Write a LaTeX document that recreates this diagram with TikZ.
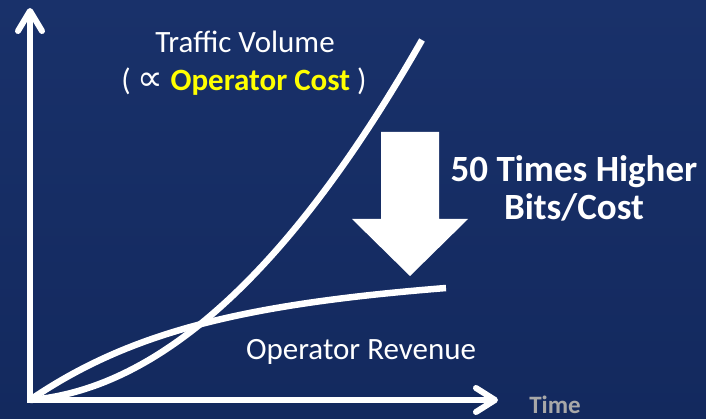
\documentclass[tikz,border=0pt]{standalone}
\usepackage{fontspec}
\setmainfont{Carlito}
\newfontfamily\symfam{DejaVu Sans}
\definecolor{bgtop}{RGB}{25,49,106}
\definecolor{bgbot}{RGB}{19,41,94}
\definecolor{costyellow}{RGB}{255,255,0}
\definecolor{timegray}{RGB}{168,168,168}
\begin{document}
\begin{tikzpicture}[x=1pt,y=-1pt,
  curve/.style={white, line width=6.5pt},
  axisline/.style={white, line width=6pt, line join=miter},
  chevron/.style={white, line width=6pt, line cap=round, line join=round},
  lbl/.style={white, inner sep=0pt, anchor=base, font=\fontsize{31}{37}\selectfont},
  biglbl/.style={white, inner sep=0pt, anchor=base, font=\fontsize{37}{40}\selectfont\bfseries},
  timelbl/.style={timegray, inner sep=0pt, anchor=base, font=\fontsize{25}{30}\selectfont\bfseries},
  bigarrow/.style={fill=white}]
\shade[top color=bgtop, bottom color=bgbot] (0,0) rectangle (706,419);
\useasboundingbox (0,0) rectangle (706,419);
% axes
\coordinate (O) at (30,400);
\coordinate (ytip) at (30,11);
\coordinate (xtip) at (495,400);
\draw[axisline] (30,14) -- (O) -- (492,400);
\draw[chevron] (18,31) -- (ytip) -- (42,31);
\draw[chevron] (476,388) -- (xtip) -- (476,412);
% curves
\coordinate (tvend) at (422,40);
\coordinate (revend) at (446,288);
\draw[curve] (O) .. controls (161.3,388.9) and (291.7,268.7) .. (tvend);
\draw[curve] (O) .. controls (131,331) and (246,304) .. (revend);
% big arrow
\fill[bigarrow] (381,132) -- (439,132) -- (439,219) -- (468,219) -- (410,276)
  -- (352,219) -- (381,219) -- cycle;
% labels
\node[lbl] (tv) at (245,53) {Traffic Volume};
\node[lbl] (oc) at (244,91) {( {\symfam\fontsize{36}{36}\selectfont ∝} {\bfseries\color{costyellow}Operator Cost} )};
\node[lbl] (rev) at (361,359) {Operator Revenue};
\node[biglbl] (fifty) at (574,182) {50 Times Higher};
\node[biglbl] (bits) at (574,220) {Bits/Cost};
\node[timelbl] (time) at (555,413) {Time};
\end{tikzpicture}
\end{document}
